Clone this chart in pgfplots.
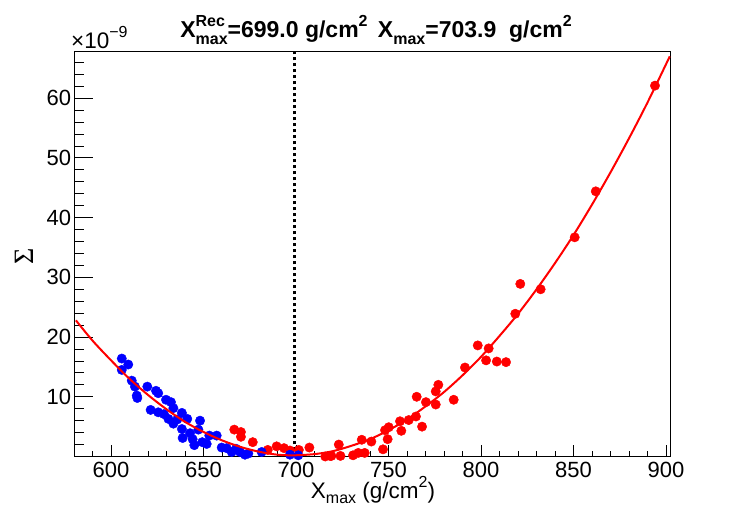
\documentclass[border=0pt]{standalone}
\usepackage{pgfplots}
\pgfplotsset{compat=1.18}
\usepackage{fontspec}
\setmainfont{Liberation Sans}
\newfontfamily\serifsym{Liberation Serif}
\newcommand{\sub}[1]{\raisebox{-0.28em}{\fontsize{16}{16}\selectfont #1}}
\newcommand{\subl}[1]{\raisebox{-0.22em}{\fontsize{16}{16}\selectfont #1}}
\newcommand{\sups}[1]{\raisebox{0.5em}{\fontsize{16}{16}\selectfont #1}}
\begin{document}
\begin{tikzpicture}
\useasboundingbox (0,0) rectangle (747pt,508pt);
\pgfplotsset{common/.style={
  at={(74.6pt,51.5pt)}, anchor=south west, scale only axis,
  width=596.1pt, height=405.5pt,
  xmin=580.3, xmax=902.5, ymin=0, ymax=67.9,
  /pgf/number format/assume math mode=true,
  tick label style={font=\fontsize{22}{24}\selectfont},
  tick style={black, line width=0.8pt},
}}
% y ticks
\begin{axis}[common, xtick=\empty, ytick={10,20,...,60},
  minor ytick={2,4,...,66}, ytick pos=left, tick align=inside,
  major tick length=18.5pt, minor tick length=9pt,
  axis line style={draw=none},
  yticklabel style={xshift=0pt}]
\end{axis}
\begin{axis}[common, ytick=\empty, xtick={600,650,...,900},
  minor xtick={590,600,...,900}, xtick pos=bottom, tick align=inside,
  major tick length=11pt, minor tick length=5.7pt,
  axis line style={black, line width=0.8pt},
  xticklabel style={yshift=-2pt},
  clip mode=individual]
\addplot[black, line width=3pt, dash pattern=on 3.5pt off 2.5pt] coordinates {(699,0) (699,67.9)};
\addplot[only marks, mark=*, mark size=4.7pt, color=red, mark options={draw=red, fill=red}] coordinates {
(666.6,4.5) (670.2,4.1) (670.2,3.3) (676.6,2.4) (684.7,1.1) (689.5,1.7) (693.5,1.4) (696.7,1.0)
(701.5,1.1) (707.2,1.5) (715.8,0.0) (718.4,0.1) (719.1,0.1) (723.1,2.0) (724.0,0.1) (730.8,0.2)
(733.6,0.6) (737.1,0.6) (735.5,2.8) (740.7,2.5) (747.0,1.2) (749.5,2.9) (748.1,4.4) (750.1,4.9)
(756.9,4.3) (756.2,5.9) (760.9,6.1) (764.8,6.7) (768.1,5.0) (765.2,10.0) (770.2,9.1) (775.5,8.7)
(775.5,10.9) (776.9,12.0) (785.2,9.5) (791.3,14.9) (798.2,18.6) (804.1,18.1) (802.7,16.1) (808.5,15.9)
(813.5,15.8) (818.5,23.9) (821.2,28.9) (832.2,28.0) (850.6,36.7) (862.0,44.4) (894.0,62.1)
};
\addplot[only marks, mark=*, mark size=4.7pt, color=blue, mark options={draw=blue, fill=blue}] coordinates {
(605.8,16.4) (605.8,14.5) (609.3,15.4) (611.2,12.7) (612.9,11.7) (613.9,10.2) (614.2,9.8) (619.6,11.7)
(624.3,11.0) (625.5,10.6) (621.4,7.8) (625.5,7.4) (628.6,7.1) (629.7,9.5) (632.4,9.1) (633.7,8.1)
(631.0,6.3) (633.7,5.5) (635.8,6.2) (638.3,7.3) (641.2,6.3) (638.3,4.6) (638.7,3.1) (642.7,3.9)
(644.1,2.9) (645.0,1.9) (647.2,4.5) (648.1,6.0) (649.3,2.4) (651.7,2.1) (653.1,3.5) (657.1,3.5)
(659.8,1.5) (662.5,1.4) (665.2,0.75) (667.5,1.3) (669.7,0.75) (672.4,0.3) (674.2,0.5) (681.4,0.75)
(696.7,0.3) (701.2,0.2)
};
\addplot[red, line width=2pt, smooth] coordinates {
(581,22.8) (590,19.4) (600,16.1) (610,13.0) (620,10.3) (630,7.9) (640,5.8) (650,4.1) (660,2.7)
(670,1.6) (680,0.8) (690,0.3) (699,0.2) (710,0.4) (720,0.9) (730,1.8) (740,2.9) (750,4.4)
(760,6.2) (770,8.4) (780,10.8) (790,13.6) (800,16.7) (810,20.2) (820,23.9) (830,28.0) (840,32.4)
(850,37.1) (860,42.2) (870,47.6) (880,53.3) (890,59.3) (902,67.0)
};
\end{axis}
\node[anchor=base, font=\fontsize{23}{26}\selectfont\bfseries] at (376pt,470pt)
  {X\rlap{\sups{Rec}}\sub{max}=699.0 g/cm\sups{2}\hspace{0.45em}X\sub{max}=703.9\ \ g/cm\sups{2}};
\node[anchor=base, font=\fontsize{22.5}{24}\selectfont, inner sep=0pt] at (373pt,9.5pt)
  {X\subl{max} (g/cm\sups{2})};
\node[anchor=base west, font=\fontsize{22.5}{24}\selectfont, inner sep=0pt] at (71pt,459pt)
  {×10\raisebox{0.5em}{\fontsize{16}{16}\selectfont −9}};
\node[rotate=90, font=\fontsize{28}{30}\serifsym, inner sep=0pt] at (24pt,252pt) {Σ};
\end{tikzpicture}
\end{document}
